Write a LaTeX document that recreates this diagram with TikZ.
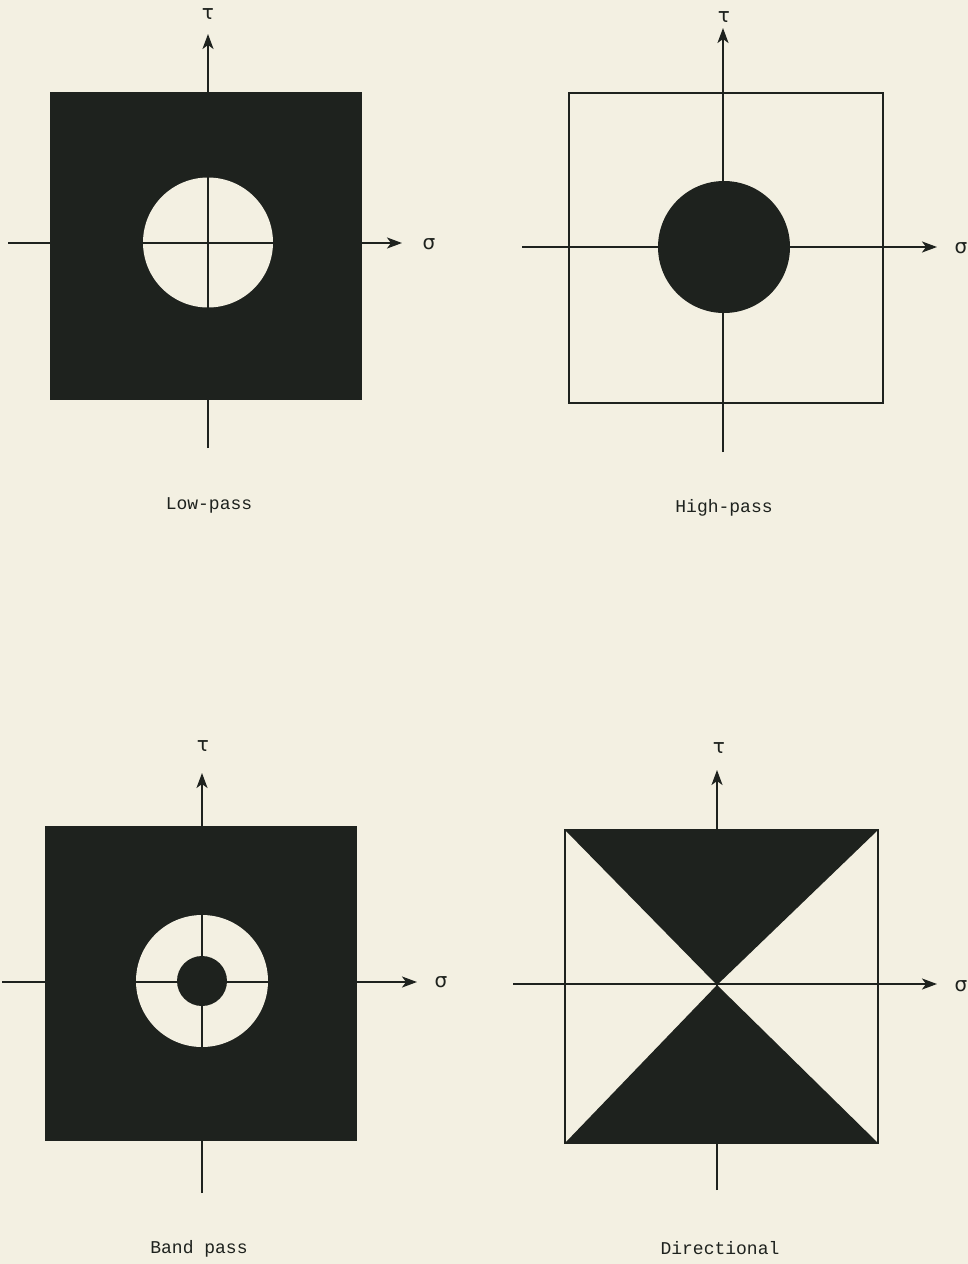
\documentclass[tikz,border=0pt]{standalone}
\usepackage{fontspec}
\setmonofont{Liberation Mono}
\newfontfamily\greekfont{DejaVu Sans}
\usetikzlibrary{arrows.meta}
\definecolor{paper}{HTML}{F3F0E2}
\definecolor{ink}{HTML}{1E221E}
\tikzset{
  axis/.style={draw=ink, line width=2pt},
  arrowaxis/.style={axis, -{Stealth[length=15pt,width=11pt,inset=4pt]}},
  frame/.style={draw=ink, line width=2pt},
  darkfill/.style={fill=ink},
  paperfill/.style={fill=paper},
  caption/.style={font=\ttfamily\fontsize{18}{20}\selectfont, text=ink, inner sep=0pt},
  greek/.style={font=\greekfont\fontsize{20}{22}\selectfont, text=ink, inner sep=0pt}
}
\begin{document}
\begin{tikzpicture}[x=1pt,y=-1pt]
\useasboundingbox (0,0) rectangle (968,1264);
\fill[paper] (0,0) rectangle (968,1264);

% ---------- Low-pass ----------
\fill[darkfill] (50,92) rectangle (362,400);
\fill[paperfill] (208,242.5) circle (65);
\coordinate (a1l) at (8,243);
\coordinate (a1r) at (402,243);
\coordinate (a1b) at (208,448);
\coordinate (a1t) at (208,34);
\draw[arrowaxis] (a1l) -- (a1r);
\draw[arrowaxis] (a1b) -- (a1t);
\node[greek] (s1) at (429,244) {σ};
\node[greek] (t1) at (208,14) {τ};
\node[caption] (c1) at (209,505) {Low-pass};

% ---------- High-pass ----------
\draw[frame] (569,93) rectangle (883,403);
\fill[darkfill] (724,247) circle (66);
\coordinate (a2l) at (522,247);
\coordinate (a2r) at (937,247);
\coordinate (a2b) at (723,452);
\coordinate (a2t) at (723,28);
\draw[arrowaxis] (a2l) -- (a2r);
\draw[arrowaxis] (a2b) -- (a2t);
\node[greek] (s2) at (961,248) {σ};
\node[greek] (t2) at (724,17) {τ};
\node[caption] (c2) at (724,508) {High-pass};

% ---------- Band pass ----------
\fill[darkfill] (45,826) rectangle (357,1141);
\fill[paperfill] (202,981) circle (66);
\fill[darkfill] (202,981) circle (25);
\coordinate (a3l) at (2,982);
\coordinate (a3r) at (417,982);
\coordinate (a3b) at (202,1193);
\coordinate (a3t) at (202,773);
\draw[arrowaxis] (a3l) -- (a3r);
\draw[arrowaxis] (a3b) -- (a3t);
\node[greek] (s3) at (441,982) {σ};
\node[greek] (t3) at (203,746) {τ};
\node[caption] (c3) at (199,1249) {Band pass};

% ---------- Directional ----------
\draw[frame] (565,830) rectangle (878,1143);
\coordinate (ctr) at (717,985);
\fill[darkfill] (565,830) -- (878,830) -- (ctr) -- cycle;
\fill[darkfill] (565,1143) -- (878,1143) -- (ctr) -- cycle;
\coordinate (a4l) at (513,984);
\coordinate (a4r) at (937,984);
\coordinate (a4b) at (717,1190);
\coordinate (a4t) at (717,770);
\draw[arrowaxis] (a4l) -- (a4r);
\draw[arrowaxis] (a4b) -- (a4t);
\node[greek] (s4) at (961,986) {σ};
\node[greek] (t4) at (719,748) {τ};
\node[caption] (c4) at (720,1248) {Directional};
\end{tikzpicture}
\end{document}
